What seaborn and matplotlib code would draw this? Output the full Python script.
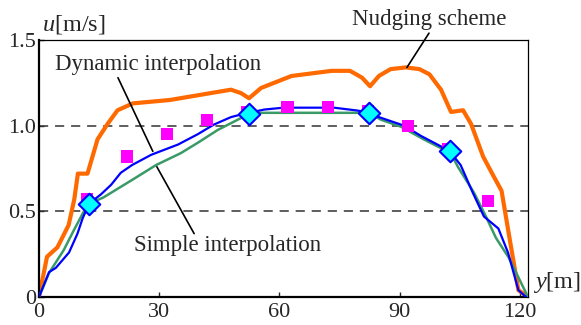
import matplotlib
matplotlib.use("Agg")
import matplotlib.pyplot as plt
import seaborn as sns
import pandas as pd

# Cross-channel velocity profiles u(y)
nudging_y = [0, 2.0, 4.6, 7.4, 8.8, 9.7, 12.1, 14.6, 17.1, 19.6, 23.4, 32.7, 42.8, 47.9,
             50.4, 52.4, 55.4, 63.0, 73.0, 77.6, 80.6, 82.6, 84.8, 87.7, 91.5, 94.9,
             97.4, 100.3, 102.8, 105.8, 107.8, 110.8, 113.3, 115.4, 117.2, 119.6, 122.0]
nudging_u = [0, 0.235, 0.29, 0.42, 0.57, 0.72, 0.72, 0.92, 1.01, 1.09, 1.13, 1.15, 1.19, 1.21,
             1.19, 1.16, 1.22, 1.29, 1.32, 1.32, 1.28, 1.23, 1.29, 1.33, 1.34, 1.33,
             1.30, 1.21, 1.08, 1.09, 1.01, 0.82, 0.71, 0.62, 0.37, 0.04, 0.0]

dynamic_y = [0, 2.5, 4.2, 7.5, 9.6, 10.9, 12.5, 15.5, 18.0, 20.4, 23.2, 28.0, 34.7, 39.6,
             43.6, 47.9, 51.2, 56.2, 61.0, 73.6, 79.5, 82.3, 84.8, 91.1, 95.3, 100.2,
             102.5, 105.2, 108.2, 111.0, 114.6, 117.0, 119.6, 121.5]
dynamic_u = [0, 0.145, 0.17, 0.26, 0.37, 0.46, 0.545, 0.60, 0.655, 0.725, 0.77, 0.83, 0.89, 0.95,
             1.006, 1.05, 1.07, 1.094, 1.105, 1.105, 1.088, 1.076, 1.05, 1.0, 0.94, 0.88,
             0.85, 0.77, 0.61, 0.47, 0.40, 0.26, 0.04, 0.0]

simple_y = [0, 2.5, 6.2, 8.7, 11.2, 12.5, 16.0, 23.0, 29.2, 35.4, 39.6, 44.6, 49.6, 52.5,
            55.4, 81.0, 82.3, 85.3, 90.3, 96.0, 100.2, 102.5, 104.5, 108.5, 111.5, 114.0,
            117.2, 122.0]
simple_u = [0, 0.14, 0.275, 0.39, 0.50, 0.545, 0.58, 0.68, 0.77, 0.84, 0.90, 0.975, 1.035, 1.07,
            1.075, 1.075, 1.076, 1.035, 0.994, 0.92, 0.87, 0.85, 0.76, 0.61, 0.47, 0.345,
            0.23, 0.0]

observed_y = [12, 22, 32, 42, 52, 62, 72, 82, 92, 102, 112]
observed_u = [0.57, 0.82, 0.95, 1.035, 1.08, 1.11, 1.11, 1.085, 1.0, 0.865, 0.56]

anchor_y = [12.5, 52.5, 82.3, 102.5]
anchor_u = [0.545, 1.07, 1.076, 0.85]

x_ticks = [0, 30, 60, 90, 120]
x_labels = ["0", "30", "60", "90", "120"]
y_ticks = [0, 0.5, 1.0, 1.5]
y_labels = ["0", "0.5", "1.0", "1.5"]

sns.set_style("ticks")
plt.rcParams["font.family"] = ["Liberation Serif", "DejaVu Serif"]
plt.rcParams["mathtext.fontset"] = "custom"
plt.rcParams["mathtext.rm"] = "Liberation Serif"
plt.rcParams["mathtext.it"] = "Liberation Serif:italic"

FS = 16.5
TFS = 16
fig = plt.figure(figsize=(5.81, 3.25), dpi=100)
ax = fig.add_axes([39 / 581, 28 / 325, 489 / 581, 257 / 325])

for yv in (0.5, 1.0):
    ax.axhline(yv, color="#333333", lw=1.1, dashes=(6, 4.5), zorder=1)

sns.lineplot(x=nudging_y, y=nudging_u, sort=False, estimator=None, ax=ax,
             color="#FF6A00", lw=3.0, zorder=2)
sns.lineplot(x=simple_y, y=simple_u, sort=False, estimator=None, ax=ax,
             color="#3A9A67", lw=1.8, zorder=3)
sns.lineplot(x=dynamic_y, y=dynamic_u, sort=False, estimator=None, ax=ax,
             color="#0000FF", lw=1.6, zorder=4)
sns.scatterplot(x=observed_y, y=observed_u, ax=ax, marker="s", s=75,
                color="#FF00FF", edgecolor="none", linewidth=0, zorder=5)
sns.scatterplot(x=anchor_y, y=anchor_u, ax=ax, marker="D", s=120,
                color="#00FFFF", edgecolor="#0000FF", linewidth=1.5, zorder=6)

ax.set_xlim(0, 122)
ax.set_ylim(0, 1.5)
ax.set_xticks(x_ticks)
ax.set_xticklabels(x_labels, fontsize=TFS)
ax.set_yticks(y_ticks)
ax.set_yticklabels(y_labels, fontsize=TFS)
ax.tick_params(axis="x", direction="in", length=3.5, width=1, pad=4)
ax.tick_params(axis="y", direction="in", length=3.5, width=1, pad=2)
ax.set_xlabel("")
ax.set_ylabel("")

for side in ("left", "bottom"):
    ax.spines[side].set_linewidth(1.6)
for side in ("top", "right"):
    ax.spines[side].set_linewidth(0.9)
for sp in ax.spines.values():
    sp.set_color("black")
    sp.set_visible(True)

ax.text(0.006, 1.015, "$u$[m/s]", transform=ax.transAxes, fontsize=FS + 1,
        ha="left", va="bottom")
ax.text(1.01, 0.058, "$y$[m]", transform=ax.transAxes, fontsize=FS + 1,
        ha="left", va="center")

# callout labels with leader lines
ax.text(97.3, 1.62, "Nudging scheme", fontsize=FS, ha="center", va="center", clip_on=False)
ax.plot([97.3, 91.8], [1.54, 1.34], color="black", lw=1.2, clip_on=False, zorder=7)

ax.text(29.8, 1.355, "Dynamic interpolation", fontsize=FS, ha="center", va="center")
ax.plot([19.7, 28.4], [1.28, 0.85], color="black", lw=1.2, zorder=7)

ax.text(47.0, 0.30, "Simple interpolation", fontsize=FS, ha="center", va="center")
ax.plot([29.4, 38.7], [0.76, 0.37], color="black", lw=1.2, zorder=7)

fig.savefig("out.png", dpi=100)
